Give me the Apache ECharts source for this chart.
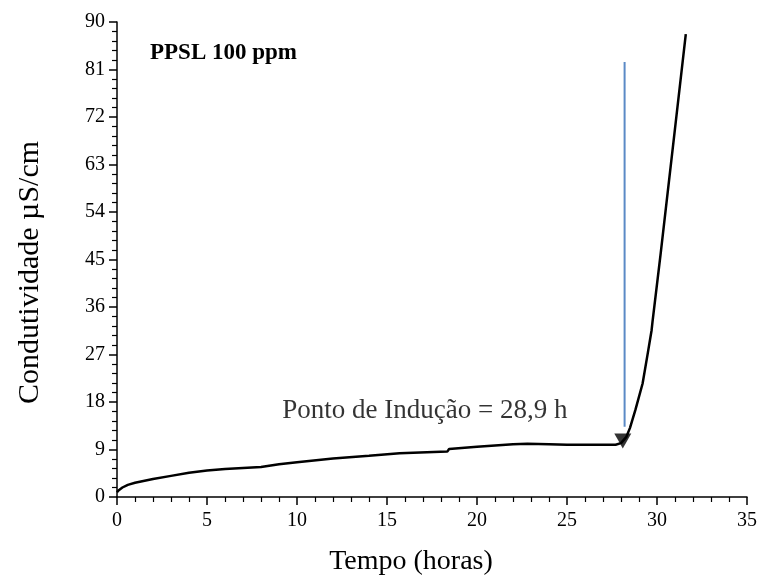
<!DOCTYPE html>
<html>
<head>
<meta charset="utf-8">
<script src="https://cdn.jsdelivr.net/npm/echarts@6/dist/echarts.min.js"></script>
<style>
html,body{margin:0;padding:0;background:#fff;}
#chart{width:759px;height:578px;}
</style>
</head>
<body>
<div id="chart"></div>
<script>
// Data
var timeHours = [0, 0.1, 0.3, 0.6, 1, 2, 3, 4, 5, 6, 7, 8, 9, 10, 12, 14, 15.7, 18.35, 18.45, 20, 22, 22.8, 24, 25, 26.8, 27.7, 28.0, 28.3, 28.5, 28.8, 29.2, 29.5, 29.7, 29.75, 30.2, 31.0, 31.6];
var conductivity = [0.9, 1.3, 1.8, 2.3, 2.7, 3.4, 4.0, 4.6, 5.0, 5.3, 5.5, 5.7, 6.2, 6.6, 7.3, 7.8, 8.3, 8.6, 9.1, 9.5, 10.0, 10.1, 10.0, 9.9, 9.9, 9.9, 10.2, 11.4, 13.1, 16.5, 21.5, 27.5, 31.6, 33.2, 46.0, 69.8, 87.7];
var inductionLineX = [28.2, 28.2];
var inductionLineY = [82.4, 13.3];
var inductionPoint = [28.1, 10.6];
var annotationPos = [17.1, 16.4];
var annotationText = 'Ponto de Indução = 28,9 h';
var chartTitle = 'PPSL 100 ppm';
var xName = 'Tempo (horas)';
var yName = 'Condutividade µS/cm';

var curve = timeHours.map(function(t, i){ return [t, conductivity[i]]; });
var blueLine = inductionLineX.map(function(x, i){ return [x, inductionLineY[i]]; });

var font = 'Liberation Serif';
var chart = echarts.init(document.getElementById('chart'));
chart.setOption({
  animation: false,
  backgroundColor: '#ffffff',
  title: {
    text: chartTitle,
    left: 145, top: 37,
    textStyle: {fontFamily: font, fontWeight: 'bold', fontSize: 23, color: '#000'}
  },
  grid: {left: 117, right: 12, top: 22, bottom: 81, outerBoundsMode: 'none', containLabel: false},
  xAxis: {
    type: 'value', min: 0, max: 35, interval: 5,
    name: xName, nameLocation: 'middle', nameGap: 51,
    nameTextStyle: {fontFamily: font, fontSize: 28, color: '#000', padding: [0, 42, 0, 0]},
    axisLine: {show: true, onZero: false, lineStyle: {color: '#000', width: 1.5}},
    axisTick: {show: true, inside: false, length: 8, lineStyle: {color: '#000', width: 1.5}},
    minorTick: {show: true, splitNumber: 5, length: 5, lineStyle: {color: '#000', width: 1.2}},
    axisLabel: {fontFamily: font, fontSize: 20, color: '#000', margin: 14},
    splitLine: {show: false}
  },
  yAxis: {
    type: 'value', min: 0, max: 90, interval: 9,
    name: yName, nameLocation: 'middle', nameGap: 72,
    nameTextStyle: {fontFamily: font, fontSize: 30, color: '#000', padding: [0, 26, 0, 0]},
    axisLine: {show: true, onZero: false, lineStyle: {color: '#000', width: 1.5}},
    axisTick: {show: true, inside: false, length: 8, lineStyle: {color: '#000', width: 1.5}},
    minorTick: {show: true, splitNumber: 5, length: 5, lineStyle: {color: '#000', width: 1.2}},
    axisLabel: {fontFamily: font, fontSize: 20, color: '#000', margin: 12},
    splitLine: {show: false}
  },
  series: [
    {
      type: 'line', data: curve, showSymbol: false, smooth: false,
      lineStyle: {color: '#000', width: 2.5}, z: 3
    },
    {
      type: 'line', data: blueLine, showSymbol: false,
      lineStyle: {color: '#5b8ac6', width: 2}, z: 2
    },
    {
      type: 'scatter', data: [inductionPoint], symbol: 'triangle', symbolRotate: 180,
      symbolSize: [17, 15], itemStyle: {color: '#000'}, z: 4
    },
    {
      type: 'scatter', data: [annotationPos], symbolSize: 0, silent: true,
      label: {show: true, position: 'inside', formatter: annotationText,
        fontFamily: font, fontSize: 27, color: '#000'}
    }
  ]
});
</script>
</body>
</html>
